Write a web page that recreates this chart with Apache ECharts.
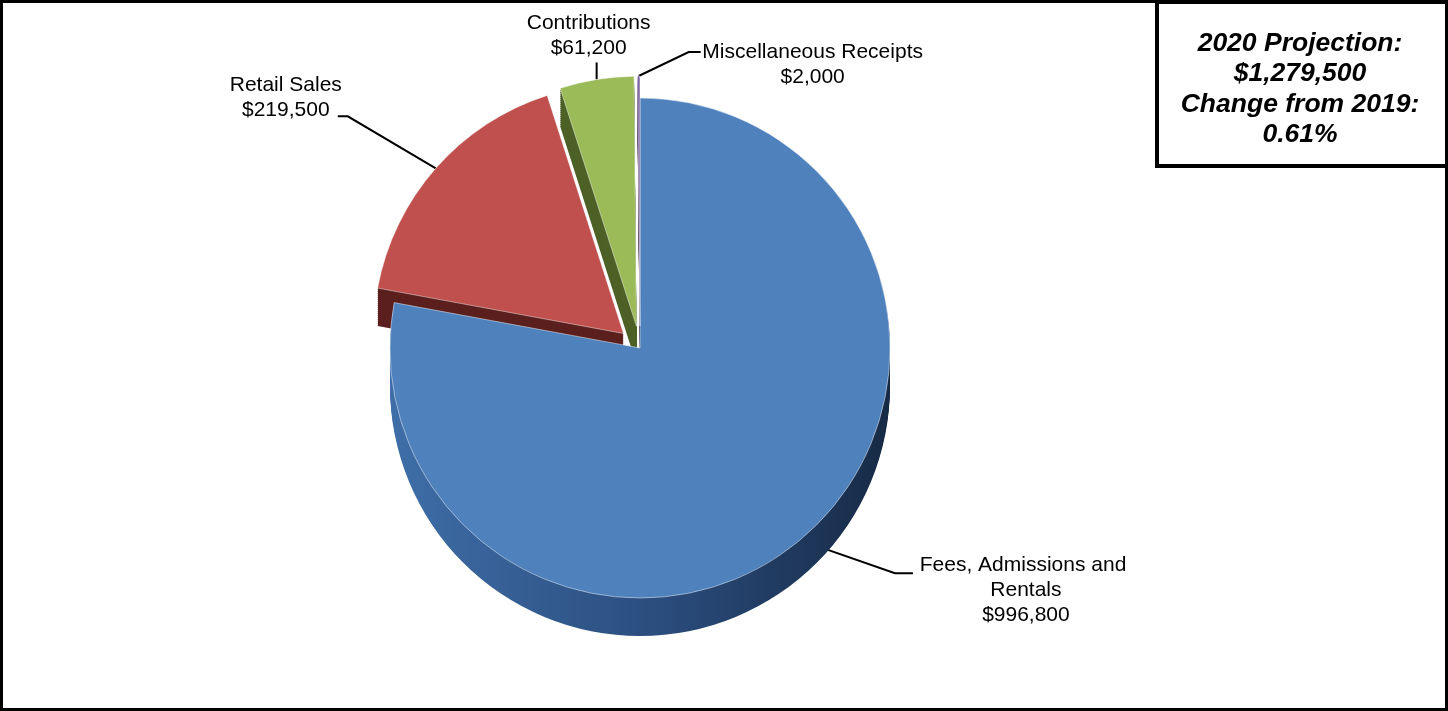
<!DOCTYPE html>
<html>
<head>
<meta charset="utf-8">
<script src="https://cdn.jsdelivr.net/npm/echarts@6/dist/echarts.min.js"></script>
<style>
html,body{margin:0;padding:0;background:#fff;}
#chart{width:1448px;height:711px;}
</style>
</head>
<body>
<div id="chart"></div>
<script>
// ---- data ----
const categories = ['Fees, Admissions and Rentals', 'Retail Sales', 'Contributions', 'Miscellaneous Receipts'];
const values = [996800, 219500, 61200, 2000];
const exploded = [false, true, true, true];
const boxLines = ['2020 Projection:', '$1,279,500', 'Change from 2019:', '0.61%'];

// ---- styles ----
const topColors = ['#4F81BD', '#C0504D', '#9BBB59', '#8064A2'];
const sideColors = [
  new echarts.graphic.LinearGradient(0, 0, 1, 0, [{offset: 0, color: '#3F6EA8'}, {offset: 0.55, color: '#2A4C7C'}, {offset: 1, color: '#172A45'}]),
  '#5B1F1D', '#4D6127', '#3F3151'
];
const CX = 640, CY = 348, R = 250, DEPTH = 38, STEP = 2;
const FONT = '"Liberation Sans", Arial, sans-serif';

function fmt(v) { return '$' + v.toLocaleString('en-US'); }

function buildData(colors) {
  return categories.map((name, i) => ({
    name: name,
    value: values[i],
    selected: exploded[i],
    itemStyle: {color: colors[i]}
  }));
}

const series = [];
for (let k = DEPTH; k >= STEP; k -= STEP) {
  series.push({
    type: 'pie',
    silent: true,
    center: [CX, CY + k],
    radius: [0, R],
    startAngle: 90,
    clockwise: true,
    selectedMode: 'multiple',
    selectedOffset: 22,
    animation: false,
    label: {show: false},
    labelLine: {show: false},
    emphasis: {disabled: true},
    itemStyle: {borderWidth: 0},
    data: buildData(sideColors)
  });
}

// label placement relative to each slice's label-line anchor p (pie-local coordinates)
const labelPlace = [
  // Fees
  p => ({line: [[p[0] + 95, p[1] + 33], [p[0] + 113, p[1] + 33]], x: p[0] + 226, y: p[1] + 13, align: 'center', va: 'top'}),
  // Retail
  p => ({line: [[p[0] - 88, p[1] - 52], [p[0] - 98, p[1] - 52]], x: p[0] - 150, y: p[1] - 96, align: 'center', va: 'top'}),
  // Contributions
  p => ({line: [[p[0], p[1] - 8], [p[0], p[1] - 17]], x: p[0] - 8, y: p[1] - 19, align: 'center', va: 'bottom'}),
  // Misc
  p => ({line: [[p[0] + 50, p[1] - 24], [p[0] + 62, p[1] - 24]], x: p[0] + 174, y: p[1] - 36, align: 'center', va: 'top'})
];

series.push({
  type: 'pie',
  center: [CX, CY],
  radius: [0, R],
  startAngle: 90,
  clockwise: true,
  selectedMode: 'multiple',
  selectedOffset: 22,
  animation: false,
  emphasis: {disabled: true},
  itemStyle: {borderColor: 'rgba(255,255,255,0.45)', borderWidth: 1},
  label: {
    show: true,
    position: 'outside',
    formatter: p => p.name + '\n' + fmt(p.value),
    fontFamily: FONT,
    fontSize: 21,
    lineHeight: 25,
    color: '#000',
    width: 232,
    overflow: 'break'
  },
  labelLine: {show: true, length: 20, length2: 10, lineStyle: {color: '#000', width: 2}},
  avoidLabelOverlap: false,
  labelLayout: function (params) {
    const pts = params.labelLinePoints;
    if (!pts) return {};
    const p = pts[0];
    const pl = labelPlace[params.dataIndex](p);
    const r = params.labelRect;
    const ax = params.align === 'right' ? r.x + r.width : (params.align === 'center' ? r.x + r.width / 2 : r.x);
    const ay = r.y + r.height / 2;
    return {
      dx: pl.x - ax,
      dy: pl.y - ay,
      align: pl.align,
      verticalAlign: pl.va,
      labelLinePoints: [p, pl.line[0], pl.line[1]]
    };
  },
  data: buildData(topColors)
});

const chart = echarts.init(document.getElementById('chart'), null, {renderer: 'canvas'});
chart.setOption({
  backgroundColor: '#fff',
  animation: false,
  series: series,
  graphic: [
    {type: 'rect', silent: true, z: 100, shape: {x: 1.5, y: 1.5, width: 1445, height: 708}, style: {fill: 'none', stroke: '#000', lineWidth: 3}},
    {type: 'rect', silent: true, z: 100, shape: {x: 1157, y: 2, width: 290, height: 164}, style: {fill: '#fff', stroke: '#000', lineWidth: 4}},
    {type: 'text', silent: true, z: 101, x: 1300, y: 28, style: {text: boxLines.join('\n'), font: 'italic bold 26.5px ' + FONT, fill: '#000', align: 'center', verticalAlign: 'top', lineHeight: 30.5}}
  ]
});
</script>
</body>
</html>
